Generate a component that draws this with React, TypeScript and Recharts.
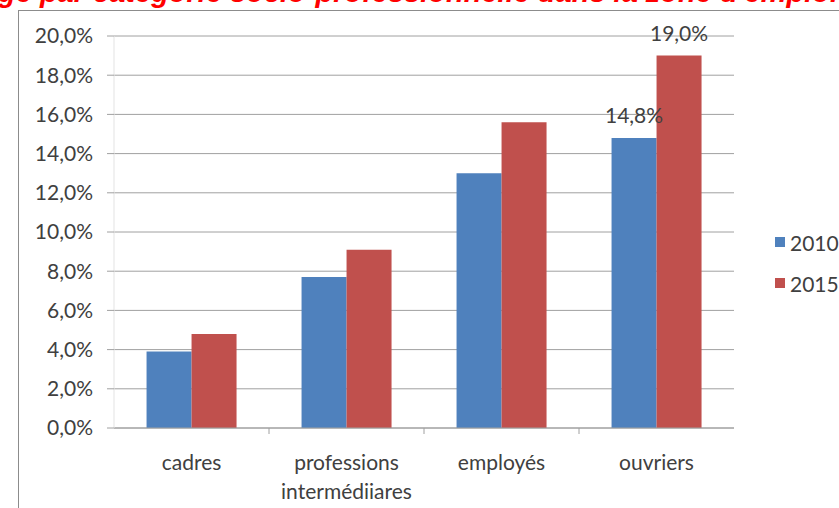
import { BarChart, Bar, XAxis, YAxis, CartesianGrid, LabelList } from 'recharts';

const categories = ['cadres', 'professions intermédiiares', 'employés', 'ouvriers'];
const values2010 = [3.9, 7.7, 13.0, 14.8];
const values2015 = [4.8, 9.1, 15.6, 19.0];
const yTicks = [0, 2, 4, 6, 8, 10, 12, 14, 16, 18, 20];
const labelledCategories = ['ouvriers'];

const series = [
  { key: 'v2010', name: '2010', color: '#4F81BD' },
  { key: 'v2015', name: '2015', color: '#C0504D' },
];

const data = categories.map((c, i) => ({ cat: c, v2010: values2010[i], v2015: values2015[i] }));

const W = 839;
const H = 508;
const PLOT_LEFT = 114;
const PLOT_RIGHT = 734;
const PLOT_TOP = 36;
const PLOT_BOTTOM = 428;
const FONT = 'Lato, "Open Sans", sans-serif';
const FS = 21;
const TEXT = '#404040';
const GRID = '#a0a0a0';

const band = (PLOT_RIGHT - PLOT_LEFT) / categories.length;

const fmt = (v: number) => `${v.toFixed(1).replace('.', ',')}%`;

// deux lignes pour "professions intermédiiares"
const CategoryTick = (props: any) => {
  const { x, y, payload, index } = props;
  const lines = String(payload.value).split(' ');
  return (
    <g>
      {index > 0 && (
        <line x1={x - band / 2} x2={x - band / 2} y1={y} y2={y + 6} stroke={GRID} />
      )}
      <text x={x} y={y + 42} textAnchor="middle" fill={TEXT} fontSize={FS} fontFamily={FONT}>
        {lines.map((l, i) => (
          <tspan key={i} x={x} dy={i === 0 ? 0 : 29}>
            {l}
          </tspan>
        ))}
      </text>
    </g>
  );
};

const makeLabel = (props: any) => {
  const { x, y, width, value, index } = props;
  if (!labelledCategories.includes(categories[index])) return null;
  return (
    <text x={x + width / 2} y={y - 15} textAnchor="middle" fill={TEXT} fontSize={FS} fontFamily={FONT}>
      {fmt(value)}
    </text>
  );
};

export default function App() {
  return (
    <div style={{ position: 'absolute', left: 0, top: 0, width: W, height: H, overflow: 'hidden', background: '#fff' }}>
      <div
        style={{
          position: 'absolute',
          left: -2,
          top: -22,
          whiteSpace: 'nowrap',
          color: '#ff0000',
          fontFamily: '"Liberation Sans", Arial, sans-serif',
          fontWeight: 'bold',
          fontStyle: 'italic',
          fontSize: 29,
          lineHeight: '29px',
        }}
      >
        ge par catégorie socio-professionnelle dans la zone d'emploi
      </div>
      <div
        style={{
          position: 'absolute',
          left: 18,
          top: 10,
          width: W,
          height: H,
          borderLeft: '1px solid #8c8c8c',
          borderTop: '1px solid #8c8c8c',
        }}
      />
      <div style={{ position: 'absolute', left: 0, top: 0 }}>
        <BarChart
          width={W}
          height={H}
          data={data}
          margin={{ top: PLOT_TOP, right: W - PLOT_RIGHT, bottom: 0, left: 0 }}
          barGap={0}
          barCategoryGap="21%"
        >
          <CartesianGrid vertical={false} stroke={GRID} />
          <XAxis
            dataKey="cat"
            interval={0}
            tickLine={false}
            tickSize={0}
            tickMargin={0}
            axisLine={{ stroke: GRID }}
            tick={<CategoryTick />}
            height={H - PLOT_BOTTOM}
          />
          <YAxis
            width={PLOT_LEFT}
            domain={[0, 20]}
            ticks={yTicks}
            tickFormatter={fmt}
            tickSize={7}
            tickMargin={14}
            tickLine={{ stroke: GRID }}
            axisLine={{ stroke: '#e3e3e3' }}
            tick={{ fill: TEXT, fontSize: FS, fontFamily: FONT }}
          />
          {series.map((s) => (
            <Bar key={s.key} dataKey={s.key} name={s.name} fill={s.color} isAnimationActive={false}>
              <LabelList dataKey={s.key} content={makeLabel} />
            </Bar>
          ))}
        </BarChart>
      </div>
      <div style={{ position: 'absolute', left: 775, top: 227, fontFamily: FONT, fontSize: FS, color: TEXT }}>
        {series.map((s) => (
          <div key={s.key} style={{ display: 'flex', alignItems: 'center', height: 30, marginBottom: 11 }}>
            <span style={{ width: 10, height: 10, background: s.color, display: 'inline-block', marginRight: 5 }} />
            <span>{s.name}</span>
          </div>
        ))}
      </div>
    </div>
  );
}
